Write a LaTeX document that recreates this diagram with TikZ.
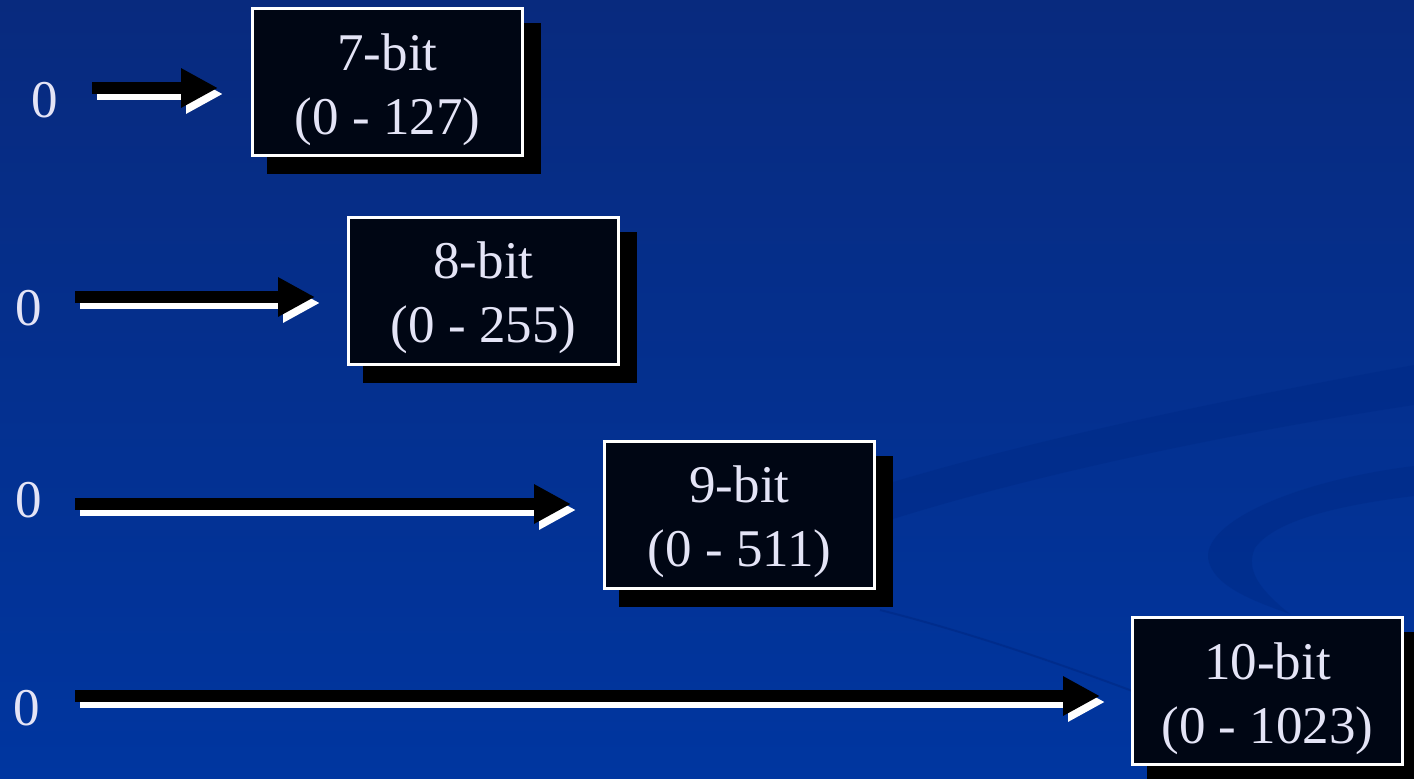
\documentclass[tikz,border=0pt]{standalone}
\usepackage{fontspec}
\setmainfont{Liberation Serif}
\usetikzlibrary{arrows.meta}
\definecolor{bgtop}{RGB}{8,42,126}
\definecolor{bgmid}{RGB}{0,52,158}
\definecolor{bgbot}{RGB}{0,54,160}
\definecolor{boxfill}{RGB}{0,6,20}
\definecolor{txt}{RGB}{228,228,246}
\definecolor{swoosh}{RGB}{0,42,135}
\tikzset{
  boxstyle/.style={draw=white, line width=3pt, fill=boxfill, minimum width=270pt, minimum height=147pt, inner sep=0pt},
  shadowbox/.style={fill=black, minimum width=274pt, minimum height=151pt, inner sep=0pt, outer sep=0pt},
  lbl/.style={text=txt, font=\fontsize{53}{64}\selectfont, inner sep=0pt, anchor=base},
  zero/.style={text=txt, font=\fontsize{53}{64}\selectfont, inner sep=0pt},
  arr/.style={line width=12pt, draw=black, -{Triangle[length=37pt,width=37pt]}},
  arrsh/.style={line width=12pt, draw=white, -{Triangle[length=37pt,width=37pt]}},
}
\begin{document}
\begin{tikzpicture}[x=1pt,y=-1pt]
\useasboundingbox (0,0) rectangle (1414,779);
\clip (0,0) rectangle (1414,779);
\shade[top color=bgtop, middle color=bgmid, bottom color=bgbot] (0,0) rectangle (1414,779);
% decorative swooshes
\fill[swoosh, opacity=0.5] (893,519) .. controls (1050,470) and (1250,430) .. (1414,405)
  -- (1414,365) .. controls (1250,395) and (1050,435) .. (893,482) -- cycle;
\fill[swoosh, opacity=0.5] (1414,466) .. controls (1300,480) and (1205,520) .. (1208,558)
  .. controls (1212,585) and (1250,600) .. (1290,614)
  .. controls (1260,590) and (1245,570) .. (1255,548)
  .. controls (1275,520) and (1340,505) .. (1414,496) -- cycle;
\draw[swoosh, opacity=0.7, line width=2pt] (880,610) .. controls (960,630) and (1050,660) .. (1135,692);
% boxes
\node[shadowbox] (s1) at (403.5,98.5) {};
\node[boxstyle] (b1) at (387.5,82) {};
\node[shadowbox] (s2) at (499.5,307) {};
\node[boxstyle] (b2) at (483.5,290.5) {};
\node[shadowbox] (s3) at (755.5,531) {};
\node[boxstyle] (b3) at (739.5,514.5) {};
\node[shadowbox] (s4) at (1283.5,707.5) {};
\node[boxstyle] (b4) at (1267.5,691) {};
% box labels
\node[lbl] (l1a) at ([yshift=-63pt]b1.north) {7-bit};
\node[lbl] (l1b) at ([yshift=-127pt]b1.north) {(0 - 127)};
\node[lbl] (l2a) at ([yshift=-63pt]b2.north) {8-bit};
\node[lbl] (l2b) at ([yshift=-127pt]b2.north) {(0 - 255)};
\node[lbl] (l3a) at ([yshift=-63pt]b3.north) {9-bit};
\node[lbl] (l3b) at ([yshift=-127pt]b3.north) {(0 - 511)};
\node[lbl] (l4a) at ([yshift=-63pt]b4.north) {10-bit};
\node[lbl] (l4b) at ([yshift=-127pt]b4.north) {(0 - 1023)};
% zeros
\node[zero] (z1) at (45,100) {0};
\node[zero] (z2) at (29,308) {0};
\node[zero] (z3) at (29,500) {0};
\node[zero] (z4) at (27,708) {0};
% arrow end points
\coordinate (a1s) at (92,88);   \coordinate (a1e) at (218,88);
\coordinate (a2s) at (75,297);  \coordinate (a2e) at (315,297);
\coordinate (a3s) at (75,504);  \coordinate (a3e) at (571,504);
\coordinate (a4s) at (75,696);  \coordinate (a4e) at (1100,696);
% arrows: white offset copy, then black
\foreach \i in {1,2,3,4}{
  \draw[arrsh] ([shift={(5,6)}]a\i s) -- ([shift={(5,6)}]a\i e);
  \draw[arr] (a\i s) -- (a\i e);
}
\end{tikzpicture}
\end{document}
